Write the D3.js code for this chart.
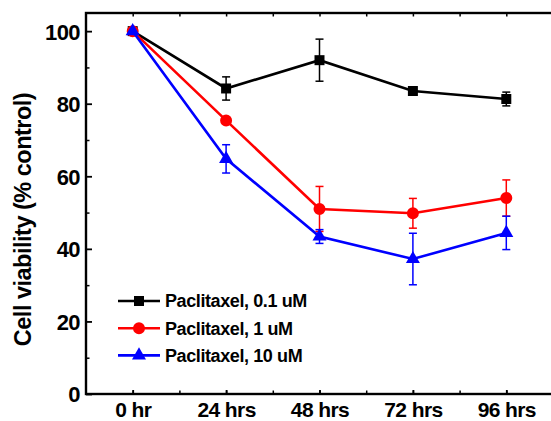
<!DOCTYPE html>
<html>
<head>
<meta charset="utf-8">
<script src="https://cdn.jsdelivr.net/npm/d3@7"></script>
<style>
  html, body { margin: 0; padding: 0; background: #fff; }
  svg { display: block; }
  text { font-family: "Liberation Sans", Arial, sans-serif; font-weight: bold; }
</style>
</head>
<body>
<svg id="chart" width="551" height="421"></svg>
<script>
// Time points along the x axis
const categories = ["0 hr", "24 hrs", "48 hrs", "72 hrs", "96 hrs"];

// Cell viability (% of control), mean and error per time point
const low = [100, 84.2, 92.0, 83.5, 81.3];
const lowErr = [0, 3.2, 5.8, 0.8, 1.9];
const mid = [100, 75.4, 51.0, 49.8, 54.0];
const midErr = [0, 0.8, 6.2, 4.1, 5.0];
const high = [100, 64.8, 43.4, 37.2, 44.4];
const highErr = [0, 3.9, 1.9, 7.1, 4.6];

const seriesNames = ["Paclitaxel, 0.1 uM", "Paclitaxel, 1 uM", "Paclitaxel, 10 uM"];
const yTicks = [0, 20, 40, 60, 80, 100];

const series = [
  { name: seriesNames[0], values: low, errors: lowErr, color: "#000000", symbol: d3.symbolSquare, size: 100 },
  { name: seriesNames[1], values: mid, errors: midErr, color: "#ff0000", symbol: d3.symbolCircle, size: 113 },
  { name: seriesNames[2], values: high, errors: highErr, color: "#0000ff", symbol: d3.symbolTriangle, size: 85 }
];

const svg = d3.select("#chart");
const plot = { left: 86, right: 553, top: 13, bottom: 394 };

const x = d3.scalePoint().domain(categories).range([plot.left, plot.right]).padding(0.5);
const xIdx = d3.scaleLinear().domain([-0.5, categories.length - 0.5]).range([plot.left, plot.right]);
const y = d3.scaleLinear().domain([0, 105]).range([plot.bottom, plot.top]);

// Minor ticks (y every 10, x at categories and midpoints)
svg.append("g")
  .attr("transform", `translate(${plot.left},0)`)
  .call(d3.axisLeft(y).tickValues(d3.range(10, 101, 20)).tickSizeInner(-3.5).tickSizeOuter(0).tickFormat(""))
  .call(g => g.select(".domain").remove())
  .call(g => g.selectAll("line").attr("stroke-width", 1.5));

const xMinor = d3.range(0, categories.length - 0.49, 0.5);
svg.append("g")
  .attr("transform", `translate(0,${plot.bottom})`)
  .call(d3.axisBottom(xIdx).tickValues(xMinor).tickSizeInner(-3.5).tickSizeOuter(0).tickFormat(""))
  .call(g => g.select(".domain").remove())
  .call(g => g.selectAll("line").attr("stroke-width", 1.5));
svg.append("g")
  .attr("transform", `translate(0,${plot.top})`)
  .call(d3.axisTop(xIdx).tickValues(xMinor).tickSizeInner(-3.5).tickSizeOuter(0).tickFormat(""))
  .call(g => g.select(".domain").remove())
  .call(g => g.selectAll("line").attr("stroke-width", 1.5));

// Major y axis with labels
svg.append("g")
  .attr("transform", `translate(${plot.left},0)`)
  .call(d3.axisLeft(y).tickValues(yTicks).tickSizeInner(-6).tickSizeOuter(0).tickPadding(6))
  .call(g => g.select(".domain").remove())
  .call(g => g.selectAll("line").attr("stroke-width", 1.8))
  .call(g => g.selectAll("text").attr("fill", "#000").style("font-size", "22px")
    .style("letter-spacing", "-0.6px").attr("dy", "0.36em"));

// Major x axis with labels
svg.append("g")
  .attr("transform", `translate(0,${plot.bottom})`)
  .call(d3.axisBottom(x).tickSizeInner(-4).tickSizeOuter(0).tickPadding(8))
  .call(g => g.select(".domain").remove())
  .call(g => g.selectAll("line").attr("stroke-width", 1.8))
  .call(g => g.selectAll("text").attr("fill", "#000").style("font-size", "21px")
    .style("letter-spacing", "-0.6px"));

// Plot frame
svg.append("rect")
  .attr("x", plot.left).attr("y", plot.top)
  .attr("width", plot.right - plot.left).attr("height", plot.bottom - plot.top)
  .attr("fill", "none").attr("stroke", "#000").attr("stroke-width", 2.4);

// Y axis title
svg.append("text")
  .attr("transform", `translate(31,${(plot.top + plot.bottom) / 2 + 16}) rotate(-90)`)
  .attr("text-anchor", "middle")
  .style("font-size", "23.5px")
  .style("letter-spacing", "-0.5px")
  .attr("fill", "#000")
  .text("Cell viability (% control)");

const line = d3.line().x((d, i) => x(categories[i])).y(d => y(d));

series.forEach(s => {
  const g = svg.append("g");
  g.append("path")
    .attr("d", line(s.values))
    .attr("fill", "none").attr("stroke", s.color).attr("stroke-width", 2.6);

  // Error bars
  const eb = g.selectAll(".err").data(s.values.map((v, i) => ({ v, e: s.errors[i], c: categories[i] })).filter(d => d.e > 0))
    .enter().append("g").attr("stroke", s.color).attr("stroke-width", 1.5);
  eb.append("line")
    .attr("x1", d => x(d.c)).attr("x2", d => x(d.c))
    .attr("y1", d => y(d.v + d.e)).attr("y2", d => y(d.v - d.e));
  [1, -1].forEach(sign => {
    eb.append("line")
      .attr("x1", d => x(d.c) - 4).attr("x2", d => x(d.c) + 4)
      .attr("y1", d => y(d.v + sign * d.e)).attr("y2", d => y(d.v + sign * d.e));
  });

  g.selectAll(".mark").data(s.values).enter().append("path")
    .attr("transform", (d, i) => `translate(${x(categories[i])},${y(d)})`)
    .attr("d", d3.symbol().type(s.symbol).size(s.size))
    .attr("fill", s.color);
});

// Legend
const legend = svg.append("g").attr("transform", "translate(118,301)");
series.forEach((s, i) => {
  const row = legend.append("g").attr("transform", `translate(0,${i * 27.2})`);
  row.append("line").attr("x1", 0).attr("x2", 42).attr("y1", 0).attr("y2", 0)
    .attr("stroke", s.color).attr("stroke-width", 2.6);
  row.append("path").attr("transform", "translate(21,0)")
    .attr("d", d3.symbol().type(s.symbol).size(s.size)).attr("fill", s.color);
  row.append("text").attr("x", 47).attr("dy", "0.36em")
    .style("font-size", "18px").style("letter-spacing", "-0.4px")
    .attr("fill", "#000").text(s.name);
});
</script>
</body>
</html>
